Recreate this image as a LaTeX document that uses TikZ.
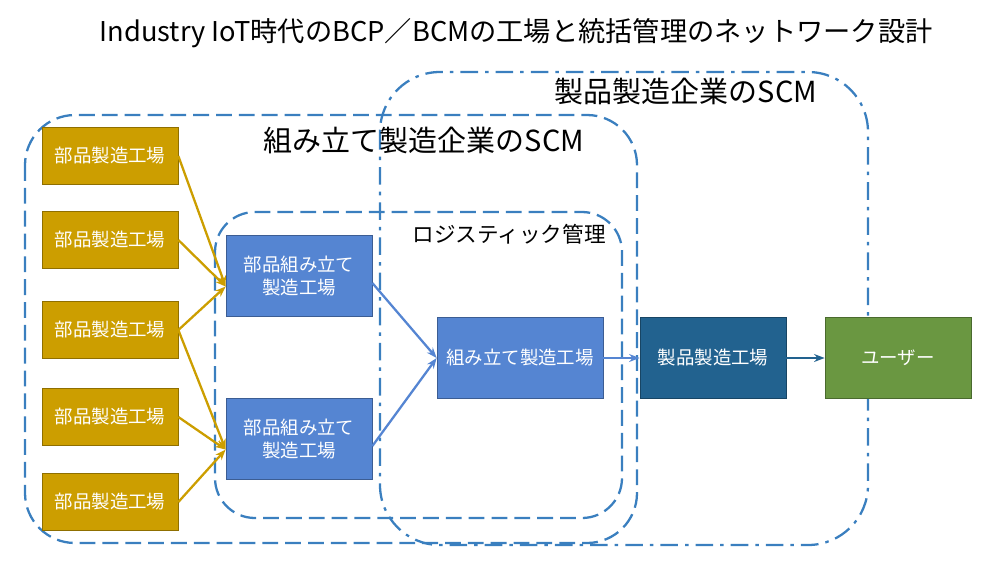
\documentclass[tikz,border=0pt]{standalone}
\usepackage{fontspec}
\setmainfont{Noto Sans CJK JP}
\usetikzlibrary{arrows.meta}
\definecolor{partgold}{HTML}{CC9E00}
\definecolor{midblue}{HTML}{5585D2}
\definecolor{darkblue}{HTML}{22628F}
\definecolor{usergreen}{HTML}{6A9741}
\definecolor{framblue}{HTML}{3A7FBF}
\tikzset{
  part/.style={draw=partgold!70!black, fill=partgold, text=white, minimum width=136*0.02cm, minimum height=57*0.02cm, font=\fontsize{10.5}{12}\selectfont},
  plant/.style={draw=midblue!70!black, fill=midblue, text=white, align=center, minimum width=146*0.02cm, minimum height=81*0.02cm, font=\fontsize{10.5}{13.5}\selectfont},
  frame/.style={draw=framblue, line width=1.3pt, rounded corners=30*0.02cm},
  goldarrow/.style={draw=partgold, line width=1.3pt, -{Stealth[length=6pt]}},
  bluearrow/.style={draw=midblue, line width=1.3pt, -{Stealth[length=6pt]}}
}
\begin{document}
\begin{tikzpicture}[x=0.02cm, y=-0.02cm]
  \useasboundingbox (0,0) rectangle (1000,562);
  % title
  \node (title) at (516,33) {\fontsize{15.5}{17}\selectfont Industry IoT時代のBCP／BCMの工場と統括管理のネットワーク設計};

  % frames
  \draw[frame, dash pattern=on 10pt off 4pt on 2pt off 4pt, rounded corners=60*0.02cm] (380,72) rectangle (868,545);
  \node (scmprod) at (686,91) {\fontsize{16.5}{18}\selectfont 製品製造企業のSCM};
  \draw[frame, dash pattern=on 9pt off 4pt, rounded corners=50*0.02cm] (25,115) rectangle (637,543);
  \node (scmasm) at (424,140) {\fontsize{16.5}{18}\selectfont 組み立て製造企業のSCM};
  \draw[frame, dash pattern=on 9pt off 4pt, rounded corners=40*0.02cm] (215,212) rectangle (622,518);
  \node (logi) at (509,234) {\fontsize{12.3}{14}\selectfont ロジスティック管理};

  % parts factories
  \foreach \i/\y in {1/156,2/240,3/330,4/417,5/502}
    \node[part] (p\i) at (110,\y) {部品製造工場};

  \node[plant] (a1) at (299,276) {部品組み立て\\製造工場};
  \node[plant] (a2) at (299,439) {部品組み立て\\製造工場};
  \node[plant, minimum width=166*0.02cm] (asm) at (520,358) {組み立て製造工場};
  \node[plant, fill=darkblue, draw=darkblue!70!black] (prod) at (713,358) {製品製造工場};
  \node[plant, fill=usergreen, draw=usergreen!70!black] (user) at (898,358) {ユーザー};

  % flows
  \foreach \i in {1,2,3}
    \draw[goldarrow] (p\i.east) -- ([yshift=-6pt]a1.west);
  \foreach \i in {3,4,5}
    \draw[goldarrow] (p\i.east) -- ([yshift=-6pt]a2.west);
  \draw[bluearrow] ([yshift=-4pt]a1.east) -- (asm.west);
  \draw[bluearrow] ([yshift=-4pt]a2.east) -- (asm.west);
  \draw[bluearrow] (asm.east) -- (prod.west);
  \draw[bluearrow, draw=darkblue] (prod.east) -- (user.west);
\end{tikzpicture}
\end{document}
